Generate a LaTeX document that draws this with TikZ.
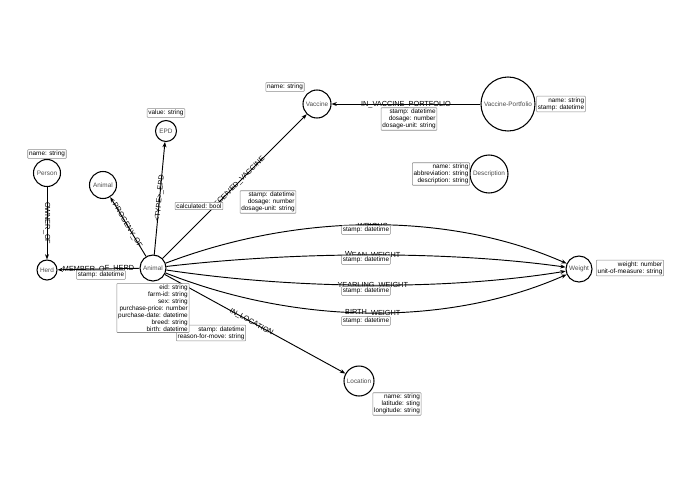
\documentclass[tikz,border=0pt]{standalone}
\usepackage{fontspec}
\setmainfont{Liberation Sans}
\usetikzlibrary{arrows.meta}
\begin{document}
\begin{tikzpicture}[x=0.75pt,y=-0.75pt,
  ent/.style={circle,draw,line width=0.8pt,fill=white,inner sep=0pt,font=\fontsize{4.8}{5}\selectfont,text=black!70},
  prop/.style={draw=black!45,fill=white,rounded corners=0.5pt,inner sep=1pt,font=\fontsize{4.8}{5.2}\selectfont,align=right},
  rel/.style={-{Stealth[length=4pt,width=3pt]},line width=0.7pt},
  lab/.style={font=\fontsize{5.5}{6}\selectfont,inner sep=0.5pt,sloped}]
\useasboundingbox (0,0) rectangle (695,494);
\node[ent,minimum size=26pt*0.75] (animal) at (153,268) {Animal};
\node[ent,minimum size=20pt*0.75] (herd) at (47,270) {Herd};
\node[ent,minimum size=27pt*0.75] (person) at (47,173) {Person};
\node[ent,minimum size=27pt*0.75] (animal2) at (103,185) {Animal};
\node[ent,minimum size=21pt*0.75] (epd) at (166,131) {EPD};
\node[ent,minimum size=28pt*0.75] (vaccine) at (317,104) {Vaccine};
\node[ent,minimum size=54pt*0.75] (vp) at (508,104) {Vaccine-Portfolio};
\node[ent,minimum size=38pt*0.75] (desc) at (489,174) {Description};
\node[ent,minimum size=26pt*0.75] (weight) at (579,269) {Weight};
\node[ent,minimum size=30pt*0.75] (loc) at (359,381) {Location};

\draw[rel] (person) -- node[font=\fontsize{5.5}{6}\selectfont,inner sep=0.5pt,rotate=-90] {OWNER\_OF} (herd);
\draw[rel] (animal) -- node[lab,above=-3.5pt] {MEMBER\_OF\_HERD} (herd);
\draw[rel] (animal) -- node[lab,above=-3.5pt,pos=0.52] {PROGENY\_OF} (animal2);
\draw[rel] (animal) -- node[lab,above=-3.5pt,pos=0.5] {<TYPE>\_EPD} (epd);
\draw[rel] (animal) -- node[lab,above=-3.5pt,pos=0.52] {RECEIVED\_VACCINE} (vaccine);
\draw[rel] (vp) -- node[lab,above=-3.5pt] {IN\_VACCINE\_PORTFOLIO} (vaccine);
\draw[rel] (animal) -- node[lab,above=-3.5pt,pos=0.48] {IN\_LOCATION} (loc);
\draw[rel] (animal) .. controls (300,212) and (450,212) .. node[lab,above=-3.5pt] {WEIGHS} (weight);
\draw[rel] (animal) .. controls (300,251) and (450,251) .. node[lab,above=-3.5pt] {WEAN\_WEIGHT} (weight);
\draw[rel] (animal) .. controls (300,290) and (450,290) .. node[lab,above=-3.5pt] {YEARLING\_WEIGHT} (weight);
\draw[rel] (animal) .. controls (300,326) and (450,326) .. node[lab,above=-3.5pt] {BIRTH\_WEIGHT} (weight);

\node[prop] (p1) at (47,154) {name: string};
\node[prop] (p2) at (166,113) {value: string};
\node[prop] (p3) at (285,87) {name: string};
\node[prop] (p4) at (561,104) {name: string\\stamp: datetime};
\node[prop] (p5) at (441,174) {name: string\\abbreviation: string\\description: string};
\node[prop] (p6) at (199,206) {calculated: bool};
\node[prop] (p7) at (268,202) {stamp: datetime\\dosage: number\\dosage-unit: string};
\node[prop] (p8) at (101,275) {stamp: datetime};
\node[prop] (p10) at (211,333) {stamp: datetime\\reason-for-move: string};
\node[prop] (p9) at (153,308) {eid: string\\farm-id: string\\sex: string\\purchase-price: number\\purchase-date: datetime\\breed: string\\birth: datetime};
\node[prop] (p11) at (409,119) {stamp: datetime\\dosage: number\\dosage-unit: string};
\node[prop] (p12) at (630,268) {weight: number\\unit-of-measure: string};
\node[prop] (p13) at (397,404) {name: string\\latitude: sting\\longitude: string};
\node[prop] (s1) at (366,230) {stamp: datetime};
\node[prop] (s2) at (366,260) {stamp: datetime};
\node[prop] (s3) at (366,291) {stamp: datetime};
\node[prop] (s4) at (366,321) {stamp: datetime};
\end{tikzpicture}
\end{document}
